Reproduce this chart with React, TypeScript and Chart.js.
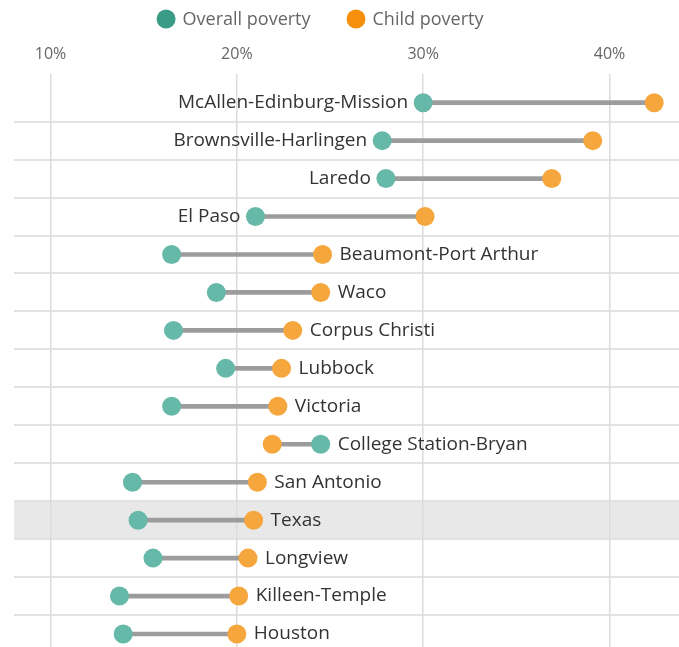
import React, { useEffect, useRef } from 'react';
import { Chart, registerables } from 'chart.js';

Chart.register(...registerables);

const categories = [
  'McAllen-Edinburg-Mission',
  'Brownsville-Harlingen',
  'Laredo',
  'El Paso',
  'Beaumont-Port Arthur',
  'Waco',
  'Corpus Christi',
  'Lubbock',
  'Victoria',
  'College Station-Bryan',
  'San Antonio',
  'Texas',
  'Longview',
  'Killeen-Temple',
  'Houston',
];
const overallPoverty = [30.0, 27.8, 28.0, 21.0, 16.5, 18.9, 16.6, 19.4, 16.5, 24.5, 14.4, 14.7, 15.5, 13.7, 13.9];
const childPoverty = [42.4, 39.1, 36.9, 30.1, 24.6, 24.5, 23.0, 22.4, 22.2, 21.9, 21.1, 20.9, 20.6, 20.1, 20.0];
const xTicks = [10, 20, 30, 40];
const highlightCategory = 'Texas';
const legendItems = ['Overall poverty', 'Child poverty'];

const TEAL = '#66b8a8';
const ORANGE = '#f5a63c';
const LEGEND_TEAL = '#3a9b87';
const LEGEND_ORANGE = '#f58f0c';
const LABEL_FONT = '19px "Open Sans"';
const LEGEND_FONT = '18px "Open Sans"';

const decorPlugin = {
  id: 'dumbbellDecor',
  beforeDraw(chart: any) {
    const { ctx, chartArea, scales } = chart;
    const y = scales.y;
    const step = y.getPixelForValue(1) - y.getPixelForValue(0);
    ctx.save();
    const hi = categories.indexOf(highlightCategory);
    if (hi >= 0) {
      const yc = y.getPixelForValue(hi);
      ctx.fillStyle = '#e8e8e8';
      ctx.fillRect(chartArea.left, yc - step / 2, chart.width - chartArea.left, step);
    }
    ctx.strokeStyle = '#e3e3e3';
    ctx.lineWidth = 2;
    for (let i = 0; i < categories.length - 1; i++) {
      const yy = Math.round(y.getPixelForValue(i) + step / 2);
      ctx.beginPath();
      ctx.moveTo(chartArea.left, yy);
      ctx.lineTo(chart.width, yy);
      ctx.stroke();
    }
    ctx.restore();
  },
  afterDraw(chart: any) {
    const { ctx, scales } = chart;
    const x = scales.x;
    const y = scales.y;
    ctx.save();
    // category labels beside the dumbbells
    ctx.font = LABEL_FONT;
    ctx.fillStyle = '#333333';
    ctx.textBaseline = 'middle';
    categories.forEach((cat, i) => {
      const lo = Math.min(overallPoverty[i], childPoverty[i]);
      const hiV = Math.max(overallPoverty[i], childPoverty[i]);
      const yc = y.getPixelForValue(i);
      if (hiV >= 30) {
        ctx.textAlign = 'right';
        ctx.fillText(cat, x.getPixelForValue(lo) - 15, yc);
      } else {
        ctx.textAlign = 'left';
        ctx.fillText(cat, x.getPixelForValue(hiV) + 17, yc);
      }
    });
    // legend
    ctx.font = LEGEND_FONT;
    ctx.textAlign = 'left';
    ctx.textBaseline = 'middle';
    const colors = [LEGEND_TEAL, LEGEND_ORANGE];
    const r = 9.5;
    const gapText = 7;
    const gapItems = 36;
    const widths = legendItems.map((t) => 2 * r + gapText + ctx.measureText(t).width);
    const total = widths.reduce((a, b) => a + b, 0) + gapItems * (legendItems.length - 1);
    let sx = 320 - total / 2;
    const ly = 19;
    legendItems.forEach((t, i) => {
      ctx.fillStyle = colors[i];
      ctx.beginPath();
      ctx.arc(sx + r, ly, r, 0, Math.PI * 2);
      ctx.fill();
      ctx.fillStyle = '#666666';
      ctx.fillText(t, sx + 2 * r + gapText, ly + 1);
      sx += widths[i] + gapItems;
    });
    ctx.restore();
  },
};

export default function App() {
  const ref = useRef<HTMLCanvasElement | null>(null);
  useEffect(() => {
    if (!ref.current) return;
    const chart = new Chart(ref.current, {
      type: 'bar',
      data: {
        labels: categories,
        datasets: [
          {
            type: 'line',
            label: legendItems[0],
            data: overallPoverty,
            showLine: false,
            pointRadius: 9.5,
            pointHoverRadius: 9.5,
            pointBackgroundColor: TEAL,
            pointBorderWidth: 0,
            borderColor: TEAL,
            backgroundColor: TEAL,
            clip: false,
            order: 1,
          } as any,
          {
            type: 'line',
            label: legendItems[1],
            data: childPoverty,
            showLine: false,
            pointRadius: 9.5,
            pointHoverRadius: 9.5,
            pointBackgroundColor: ORANGE,
            pointBorderWidth: 0,
            borderColor: ORANGE,
            backgroundColor: ORANGE,
            clip: false,
            order: 2,
          } as any,
          {
            type: 'bar',
            label: 'gap',
            data: categories.map((_, i) => [overallPoverty[i], childPoverty[i]]),
            backgroundColor: '#9c9c9c',
            barThickness: 4,
            borderWidth: 0,
            borderSkipped: false,
            order: 3,
          } as any,
        ],
      },
      options: {
        indexAxis: 'y',
        responsive: false,
        animation: false,
        events: [],
        layout: { autoPadding: false, padding: { top: 34.5, left: 14, right: 0, bottom: 0 } },
        plugins: {
          legend: { display: false },
          tooltip: { enabled: false },
        },
        scales: {
          x: {
            type: 'linear',
            position: 'top',
            min: 8.04,
            max: 43.73,
            afterBuildTicks: (scale: any) => {
              scale.ticks = xTicks.map((v) => ({ value: v }));
            },
            ticks: {
              callback: (v: any) => `${v}%`,
              color: '#666666',
              font: { family: 'Open Sans', size: 16 },
              padding: 10,
              maxRotation: 0,
            },
            grid: {
              color: '#dcdcdc',
              lineWidth: 1.5,
              tickLength: 10,
              drawTicks: true,
            },
            border: { display: false },
          },
          y: {
            type: 'category',
            display: false,
          },
        },
      } as any,
      plugins: [decorPlugin],
    });
    return () => chart.destroy();
  }, []);
  return (
    <div
      style={{
        position: 'fixed',
        left: 0,
        top: 0,
        width: 679,
        height: 647,
        overflow: 'hidden',
        background: '#ffffff',
      }}
    >
      <canvas ref={ref} width={679} height={653} style={{ display: 'block' }} />
    </div>
  );
}
